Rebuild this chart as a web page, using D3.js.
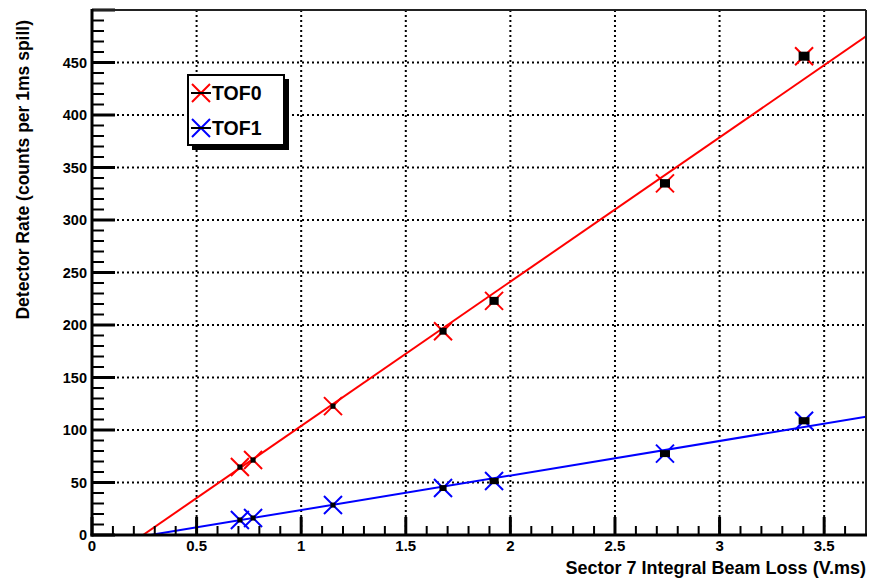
<!DOCTYPE html>
<html>
<head>
<meta charset="utf-8">
<script src="https://cdn.jsdelivr.net/npm/d3@7"></script>
<style>
  html, body { margin: 0; padding: 0; background: #fff; }
  svg { display: block; }
  text { font-family: "Liberation Sans", Arial, sans-serif; font-weight: bold; fill: #000; }
</style>
</head>
<body>
<svg id="chart" width="869" height="579"></svg>
<script>
// Integral beam loss in sector 7 (V.ms)
const beamLoss = [0.707, 0.770, 1.152, 1.678, 1.922, 2.739, 3.404];
const beamLossErr = [0.012, 0.012, 0.012, 0.017, 0.022, 0.024, 0.026];

// Detector rates (counts per 1 ms spill)
const tof0Rate = [64.7, 71.4, 122.7, 194.1, 223.0, 334.9, 456.0];
const tof0Err  = [2.5, 2.5, 2.5, 3.3, 3.8, 4.0, 4.3];
const tof1Rate = [14.3, 16.2, 28.5, 44.7, 51.4, 77.5, 108.8];
const tof1Err  = [2.4, 2.4, 2.4, 2.8, 3.0, 3.3, 3.4];

// Linear fit parameters: rate = slope * loss + offset
const tof0Fit = { slope: 137.4, offset: -33.5 };
const tof1Fit = { slope: 32.9, offset: -9.15 };

const seriesNames = ["TOF0", "TOF1"];
const seriesColors = ["#ff0000", "#0000ff"];

const xTicks = [0, 0.5, 1, 1.5, 2, 2.5, 3, 3.5];
const yTicks = [0, 50, 100, 150, 200, 250, 300, 350, 400, 450];

const xTitle = "Sector 7 Integral Beam Loss (V.ms)";
const yTitle = "Detector Rate (counts per 1ms spill)";

const svg = d3.select("#chart");
const pLeft = 92, pRight = 866, pTop = 10, pBottom = 535;

const x = d3.scaleLinear().domain([0, 3.7]).range([pLeft, pRight]);
const y = d3.scaleLinear().domain([0, 500]).range([pBottom, pTop]);

const series = [
  { name: seriesNames[0], color: seriesColors[0], rate: tof0Rate, err: tof0Err, fit: tof0Fit },
  { name: seriesNames[1], color: seriesColors[1], rate: tof1Rate, err: tof1Err, fit: tof1Fit }
];

svg.append("defs").append("clipPath").attr("id", "plotClip")
  .append("rect").attr("x", pLeft).attr("y", pTop)
  .attr("width", pRight - pLeft).attr("height", pBottom - pTop);

// Dotted grid at major ticks
const grid = svg.append("g");
grid.selectAll(null).data(xTicks.filter(d => d > 0)).join("line")
  .attr("x1", d => x(d)).attr("x2", d => x(d))
  .attr("y1", pTop).attr("y2", pBottom)
  .attr("stroke", "#000").attr("stroke-width", 2).attr("stroke-dasharray", "2,3");
grid.selectAll(null).data(yTicks.filter(d => d > 0)).join("line")
  .attr("x1", pLeft).attr("x2", pRight)
  .attr("y1", d => y(d)).attr("y2", d => y(d))
  .attr("stroke", "#000").attr("stroke-width", 2).attr("stroke-dasharray", "2,3");

// Fit lines, from the zero crossing to the right edge
const plot = svg.append("g").attr("clip-path", "url(#plotClip)");
const line = d3.line().x(d => x(d[0])).y(d => y(d[1]));
series.forEach(s => {
  const x0 = -s.fit.offset / s.fit.slope;
  const x1 = x.domain()[1];
  plot.append("path")
    .datum([[x0, 0], [x1, s.fit.slope * x1 + s.fit.offset]])
    .attr("d", line).attr("fill", "none")
    .attr("stroke", s.color).attr("stroke-width", 2);
});

// Cross markers
const m = 9;
function cross(g, cx, cy, color) {
  g.append("path")
    .attr("d", `M${cx - m},${cy - m}L${cx + m},${cy + m}M${cx - m},${cy + m}L${cx + m},${cy - m}`)
    .attr("stroke", color).attr("stroke-width", 2).attr("fill", "none");
}
series.forEach(s => {
  beamLoss.forEach((bl, i) => cross(plot, x(bl), y(s.rate[i]), s.color));
});

// Error boxes
series.forEach(s => {
  plot.selectAll(null).data(beamLoss.map((bl, i) => ({ bl, r: s.rate[i], ex: beamLossErr[i], ey: s.err[i] })))
    .join("rect")
    .attr("x", d => x(d.bl - d.ex)).attr("y", d => y(d.r + d.ey))
    .attr("width", d => x(d.bl + d.ex) - x(d.bl - d.ex))
    .attr("height", d => y(d.r - d.ey) - y(d.r + d.ey))
    .attr("fill", "#000");
});

// Axis ticks
const ax = svg.append("g");
const isHalf = d => Math.abs(d * 2 - Math.round(d * 2)) < 1e-6;
const xMinor = d3.range(0, 38).map(i => i / 10).filter(v => v <= 3.7);
ax.selectAll(null).data(xMinor).join("line")
  .attr("x1", d => x(d)).attr("x2", d => x(d))
  .attr("y1", pBottom).attr("y2", d => pBottom - (isHalf(d) ? 18 : 9))
  .attr("stroke", "#000").attr("stroke-width", d => isHalf(d) ? 3 : 2);
const yMinor = d3.range(0, 51).map(i => i * 10);
ax.selectAll(null).data(yMinor).join("line")
  .attr("y1", d => y(d)).attr("y2", d => y(d))
  .attr("x1", pLeft).attr("x2", d => pLeft + (d % 50 === 0 ? 23 : 12))
  .attr("stroke", "#000").attr("stroke-width", d => d % 50 === 0 ? 3 : 2);

// Frame
svg.append("line").attr("x1", pLeft).attr("x2", pRight).attr("y1", pTop).attr("y2", pTop)
  .attr("stroke", "#222").attr("stroke-width", 2);
svg.append("line").attr("x1", pRight).attr("x2", pRight).attr("y1", pTop).attr("y2", pBottom)
  .attr("stroke", "#222").attr("stroke-width", 2);
svg.append("line").attr("x1", pLeft).attr("x2", pLeft).attr("y1", pTop - 1).attr("y2", pBottom + 1.5)
  .attr("stroke", "#000").attr("stroke-width", 3);
svg.append("line").attr("x1", pLeft - 1.5).attr("x2", pRight + 1).attr("y1", pBottom).attr("y2", pBottom)
  .attr("stroke", "#000").attr("stroke-width", 3);

// Tick labels
svg.selectAll(null).data(xTicks).join("text")
  .attr("x", d => x(d)).attr("y", 551)
  .attr("text-anchor", "middle").attr("font-size", "15px")
  .text(d => d3.format("")(d));
svg.selectAll(null).data(yTicks).join("text")
  .attr("x", 87).attr("y", d => y(d) + 5)
  .attr("text-anchor", "end").attr("font-size", "14.5px")
  .text(d => d);

// Axis titles
svg.append("text").attr("x", pRight).attr("y", 574)
  .attr("text-anchor", "end").attr("font-size", "18px").text(xTitle);
svg.append("text").attr("transform", "translate(29,20) rotate(-90)")
  .attr("text-anchor", "end").attr("font-size", "17.5px").text(yTitle);

// Legend
const lg = svg.append("g");
lg.append("rect").attr("x", 192).attr("y", 79).attr("width", 97).attr("height", 71).attr("fill", "#000");
lg.append("rect").attr("x", 188).attr("y", 75).attr("width", 96).attr("height", 70)
  .attr("fill", "#fff").attr("stroke", "#000").attr("stroke-width", 2);
series.forEach((s, i) => {
  const cy = 93 + i * 35;
  cross(lg, 201, cy, s.color);
  lg.append("line").attr("x1", 191).attr("x2", 211).attr("y1", cy).attr("y2", cy)
    .attr("stroke", "#000").attr("stroke-width", 2);
  lg.append("text").attr("x", 212).attr("y", cy + 7).attr("font-size", "19.5px").text(s.name);
});
</script>
</body>
</html>
